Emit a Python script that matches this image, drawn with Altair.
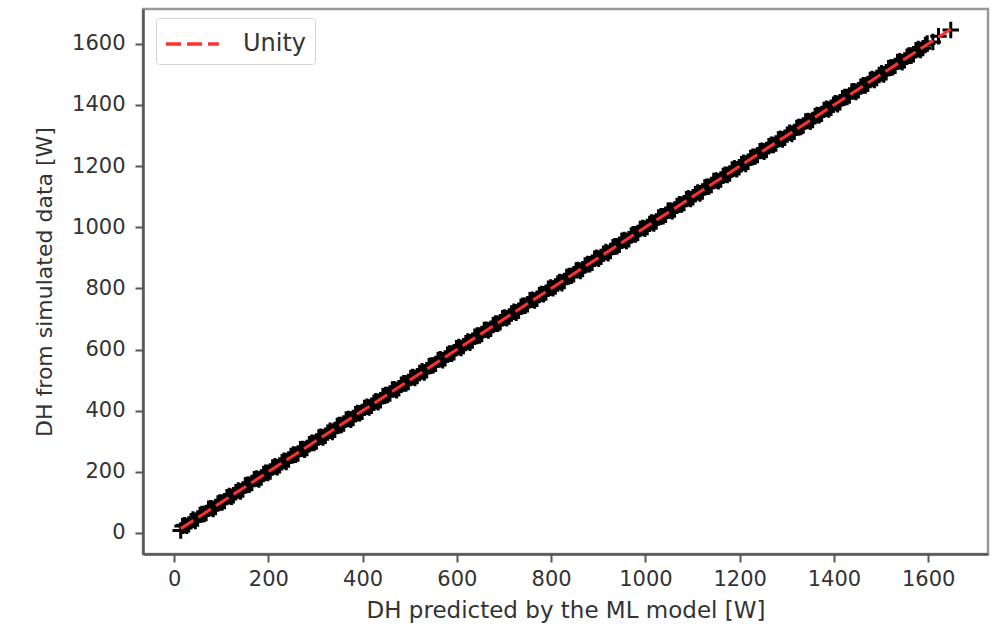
import altair as alt
import pandas as pd

predicted = [14, 22, 31, 40, 50, 59, 68, 78, 88, 97,
             107, 117, 126, 136, 146, 155, 165, 175, 185, 194,
             204, 214, 224, 233, 243, 253, 263, 272, 282, 292,
             302, 311, 321, 331, 341, 350, 360, 370, 380, 389,
             399, 409, 419, 428, 438, 448, 458, 467, 477, 487,
             497, 506, 516, 526, 536, 545, 555, 565, 575, 584,
             594, 604, 614, 623, 633, 643, 653, 662, 672, 682,
             692, 701, 711, 721, 731, 740, 750, 760, 770, 779,
             789, 799, 809, 818, 828, 838, 848, 857, 867, 877,
             887, 896, 906, 916, 926, 935, 945, 955, 965, 974,
             984, 994, 1004, 1013, 1023, 1033, 1043, 1052, 1062, 1072,
             1082, 1091, 1101, 1111, 1121, 1130, 1140, 1150, 1160, 1169,
             1179, 1189, 1199, 1208, 1218, 1228, 1238, 1247, 1257, 1267,
             1277, 1286, 1296, 1306, 1316, 1325, 1335, 1345, 1355, 1364,
             1374, 1384, 1394, 1403, 1413, 1423, 1433, 1442, 1452, 1462,
             1472, 1481, 1491, 1501, 1511, 1520, 1530, 1540, 1550, 1559,
             1569, 1579, 1589, 1598, 1610, 1622, 1648]

simulated = [8, 25, 28, 44, 47, 62, 65, 81, 85, 100,
             104, 121, 123, 139, 142, 158, 163, 178, 181, 197,
             201, 218, 221, 236, 240, 257, 260, 275, 278, 295,
             299, 315, 318, 334, 337, 353, 358, 373, 376, 392,
             396, 413, 416, 431, 434, 451, 456, 470, 473, 490,
             494, 510, 513, 529, 532, 548, 553, 568, 571, 587,
             591, 608, 611, 626, 629, 646, 651, 665, 668, 685,
             689, 705, 708, 724, 727, 743, 748, 763, 766, 782,
             786, 803, 806, 821, 824, 841, 846, 860, 863, 880,
             884, 900, 903, 919, 922, 938, 943, 958, 961, 977,
             981, 998, 1001, 1016, 1019, 1036, 1041, 1055, 1058, 1075,
             1079, 1095, 1098, 1114, 1117, 1133, 1138, 1153, 1156, 1172,
             1176, 1193, 1196, 1211, 1214, 1231, 1236, 1250, 1253, 1270,
             1274, 1290, 1293, 1309, 1312, 1328, 1333, 1348, 1351, 1367,
             1371, 1388, 1391, 1406, 1409, 1426, 1431, 1445, 1448, 1465,
             1469, 1485, 1488, 1504, 1507, 1523, 1528, 1543, 1546, 1562,
             1566, 1583, 1586, 1601, 1606, 1625, 1645]

predicted_b = [18, 27, 36, 45, 55, 64, 73, 83, 93, 102,
               112, 122, 131, 141, 151, 160, 170, 180, 190, 199,
               209, 219, 229, 238, 248, 258, 268, 277, 287, 297,
               307, 316, 326, 336, 346, 355, 365, 375, 385, 394,
               404, 414, 424, 433, 443, 453, 463, 472, 482, 492,
               502, 511, 521, 531, 541, 550, 560, 570, 580, 589,
               599, 609, 619, 628, 638, 648, 658, 667, 677, 687,
               697, 706, 716, 726, 736, 745, 755, 765, 775, 784,
               794, 804, 814, 823, 833, 843, 853, 862, 872, 882,
               892, 901, 911, 921, 931, 940, 950, 960, 970, 979,
               989, 999, 1009, 1018, 1028, 1038, 1048, 1057, 1067, 1077,
               1087, 1096, 1106, 1116, 1126, 1135, 1145, 1155, 1165, 1174,
               1184, 1194, 1204, 1213, 1223, 1233, 1243, 1252, 1262, 1272,
               1282, 1291, 1301, 1311, 1321, 1330, 1340, 1350, 1360, 1369,
               1379, 1389, 1399, 1408, 1418, 1428, 1438, 1447, 1457, 1467,
               1477, 1486, 1496, 1506, 1516, 1525, 1535, 1545, 1555, 1564,
               1574, 1584, 1594]

simulated_b = [23, 23, 38, 39, 59, 62, 79, 78, 96, 99,
               117, 118, 133, 135, 155, 158, 176, 175, 193, 196,
               214, 215, 231, 232, 252, 256, 274, 272, 290, 294,
               312, 312, 328, 330, 350, 353, 371, 370, 388, 391,
               409, 410, 426, 427, 447, 451, 469, 467, 485, 489,
               507, 507, 523, 525, 545, 548, 566, 565, 583, 586,
               604, 605, 621, 622, 642, 646, 664, 662, 680, 684,
               702, 702, 718, 720, 740, 743, 761, 760, 778, 781,
               799, 800, 816, 817, 837, 841, 859, 857, 875, 879,
               897, 897, 913, 915, 935, 938, 956, 955, 973, 976,
               994, 995, 1011, 1012, 1032, 1036, 1054, 1052, 1070, 1074,
               1092, 1092, 1108, 1110, 1130, 1133, 1151, 1150, 1168, 1171,
               1189, 1190, 1206, 1207, 1227, 1231, 1249, 1247, 1265, 1269,
               1287, 1287, 1303, 1305, 1325, 1328, 1346, 1345, 1363, 1366,
               1384, 1385, 1401, 1402, 1422, 1426, 1444, 1442, 1460, 1464,
               1482, 1482, 1498, 1500, 1520, 1523, 1541, 1540, 1558, 1561,
               1579, 1580, 1596]

unity_x = [14, 1648]
unity_y = [14, 1648]
series = ["Unity", "Unity"]

x_ticks = [0, 200, 400, 600, 800, 1000, 1200, 1400, 1600]
y_ticks = [0, 200, 400, 600, 800, 1000, 1200, 1400, 1600]

pts = pd.DataFrame({"pred": predicted + predicted_b, "sim": simulated + simulated_b})
uni = pd.DataFrame({"pred": unity_x, "sim": unity_y, "series": series})

xs = alt.Scale(domain=[-66, 1727], nice=False, zero=False)
ys = alt.Scale(domain=[-69, 1714], nice=False, zero=False)

xax = alt.Axis(title="DH predicted by the ML model [W]", values=x_ticks, grid=False,
               format="d", labelPadding=6, titlePadding=10, titleFontSize=23)
yax = alt.Axis(title="DH from simulated data [W]", values=y_ticks, grid=False,
               format="d", labelPadding=10, titlePadding=15, titleFontSize=22)

points = alt.Chart(pts).mark_point(
    shape="M-1,0L1,0M0,-1L0,1", filled=False, color="black",
    strokeWidth=3, size=270, opacity=1
).encode(
    x=alt.X("pred:Q", scale=xs, axis=xax),
    y=alt.Y("sim:Q", scale=ys, axis=yax),
)

line = alt.Chart(uni).mark_line(strokeDash=[15, 6], strokeWidth=3).encode(
    x=alt.X("pred:Q", scale=xs),
    y=alt.Y("sim:Q", scale=ys),
    color=alt.Color("series:N",
                    scale=alt.Scale(domain=["Unity"], range=["#ff3030"]),
                    legend=alt.Legend(title=None, orient="none", legendX=13, legendY=9,
                                      symbolType="M-1,0L2.3,0", symbolDash=[15, 6],
                                      symbolStrokeWidth=3.5, symbolSize=1024,
                                      labelFontSize=24, labelColor="#333",
                                      labelFont="DejaVu Sans", labelOffset=43,
                                      padding=8, strokeColor="#d4d4d4",
                                      fillColor="white", cornerRadius=3)),
)

chart = alt.layer(points, line).properties(
    width=845, height=545, autosize="none",
    padding={"left": 143, "top": 9, "right": 12, "bottom": 78},
    background="white",
).configure_view(
    stroke="#999", strokeWidth=2.5
).configure_axis(
    domainColor="#555", domainWidth=2.5, tickColor="#555", tickWidth=2, tickSize=8,
    labelFont="DejaVu Sans", labelFontSize=21, labelColor="#333",
    titleFont="DejaVu Sans", titleFontWeight="normal", titleColor="#333",
)

chart.save("out.html", embed_options={"renderer": "svg", "actions": False})
